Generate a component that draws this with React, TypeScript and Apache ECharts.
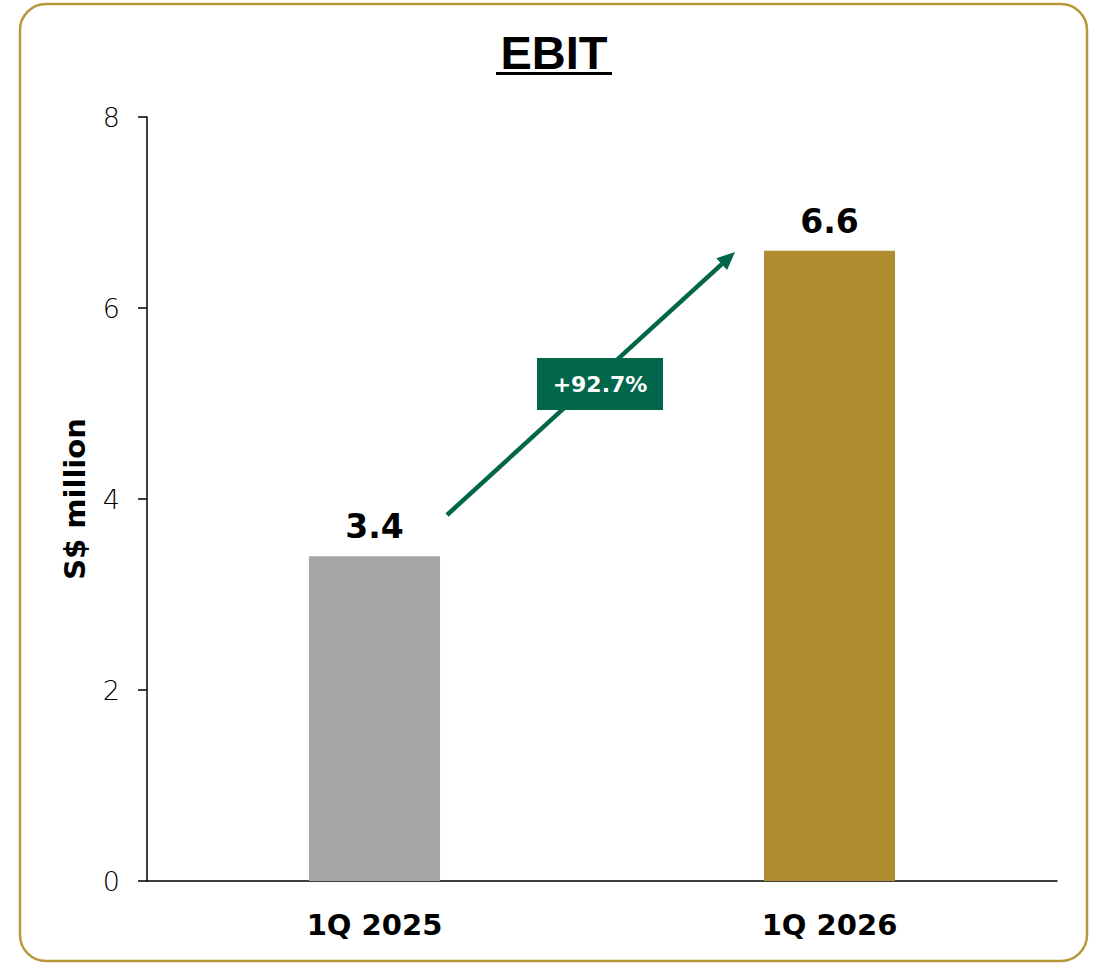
import React, { useEffect, useRef } from "react";
import * as echarts from "echarts";

const categories = ["1Q 2025", "1Q 2026"];
const ebitValues = [3.4, 6.6];
const barColors = ["#A6A6A6", "#B08D30"];
const yTicks = [0, 2, 4, 6, 8];
const growthLabel = "+92.7%";
const titleText = "EBIT";
const yAxisName = "S$ million";

const GREEN = "#02664A";
const BOLD = "'DejaVu Sans', 'Noto Sans', sans-serif";

export default function App() {
  const ref = useRef<HTMLDivElement>(null);
  useEffect(() => {
    if (!ref.current) return;
    const chart = echarts.init(ref.current, undefined, { renderer: "svg" });

    // arrow annotation geometry (pixels)
    const x1 = 447, y1 = 515, x2 = 735, y2 = 252;
    const ang = Math.atan2(y2 - y1, x2 - x1);
    const headLen = 18, headW = 8;
    const bx = x2 - headLen * Math.cos(ang);
    const by = y2 - headLen * Math.sin(ang);
    const px = -Math.sin(ang), py = Math.cos(ang);

    chart.setOption({
      animation: false,
      backgroundColor: "#fff",
      grid: { left: 147, right: 37, top: 117, bottom: 82 },
      xAxis: {
        type: "category",
        data: categories,
        axisLine: { lineStyle: { color: "#000", width: 1.5 } },
        axisTick: { show: false },
        axisLabel: {
          color: "#000",
          fontSize: 29,
          fontWeight: "bold",
          fontFamily: BOLD,
          margin: 29,
        },
      },
      yAxis: {
        type: "value",
        min: yTicks[0],
        max: yTicks[yTicks.length - 1],
        interval: 2,
        name: yAxisName,
        nameLocation: "middle",
        nameRotate: 90,
        nameGap: 58,
        nameTextStyle: {
          color: "#000",
          fontSize: 29,
          fontWeight: "bold",
          fontFamily: BOLD,
        },
        axisLine: { show: true, lineStyle: { color: "#000", width: 1.5 } },
        axisTick: { show: true, length: 9, lineStyle: { color: "#000", width: 1.5 } },
        splitLine: { show: false },
        axisLabel: {
          color: "#000",
          fontSize: 27,
          fontWeight: 300,
          fontFamily: "'DejaVu Sans', sans-serif",
          margin: 27,
        },
      },
      series: [
        {
          type: "bar",
          barWidth: "28.8%",
          data: ebitValues.map((v, i) => ({
            value: v,
            itemStyle: { color: barColors[i] },
          })),
          label: {
            show: true,
            position: "top",
            distance: 13,
            color: "#000",
            fontSize: 33,
            fontWeight: "bold",
            fontFamily: BOLD,
            formatter: (p: any) => p.value.toFixed(1),
          },
        },
      ],
      graphic: [
        {
          type: "rect",
          shape: { x: 20, y: 4, width: 1067, height: 957, r: 26 },
          style: { fill: "none", stroke: "#B8963A", lineWidth: 2.5 },
          z: 100,
        },
        {
          type: "text",
          x: 554,
          y: 52,
          style: {
            text: titleText,
            fill: "#000",
            fontSize: 47,
            fontWeight: "bold",
            fontFamily: "'Liberation Sans', Arial, sans-serif",
            align: "center",
            verticalAlign: "middle",
          },
        },
        {
          type: "line",
          shape: { x1: 496, y1: 73.5, x2: 612, y2: 73.5 },
          style: { stroke: "#000", lineWidth: 3 },
        },
        {
          type: "line",
          shape: { x1, y1, x2: bx + 2 * Math.cos(ang), y2: by + 2 * Math.sin(ang) },
          style: { stroke: GREEN, lineWidth: 4.5 },
          z: 50,
        },
        {
          type: "polygon",
          shape: {
            points: [
              [x2, y2],
              [bx + px * headW, by + py * headW],
              [bx - px * headW, by - py * headW],
            ],
          },
          style: { fill: GREEN },
          z: 50,
        },
        {
          type: "rect",
          shape: { x: 537, y: 358, width: 126, height: 52 },
          style: { fill: GREEN },
          z: 60,
        },
        {
          type: "text",
          x: 600,
          y: 384,
          style: {
            text: growthLabel,
            fill: "#fff",
            fontSize: 22,
            fontWeight: "bold",
            fontFamily: BOLD,
            align: "center",
            verticalAlign: "middle",
          },
          z: 61,
        },
      ],
    });
    return () => chart.dispose();
  }, []);
  return (
    <div
      ref={ref}
      style={{ position: "absolute", left: 0, top: 0, width: 1094, height: 963 }}
    />
  );
}
